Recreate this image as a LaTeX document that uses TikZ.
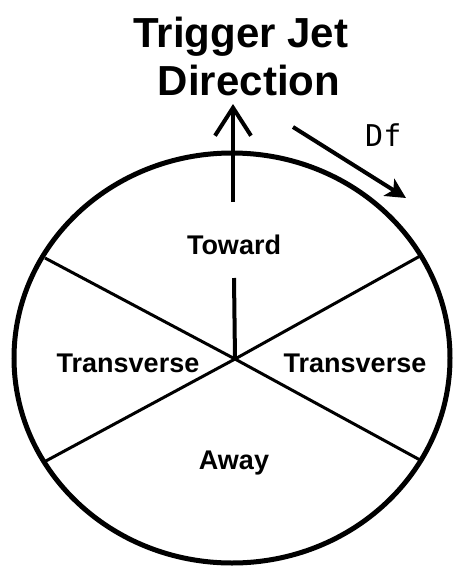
\documentclass[tikz,border=0pt]{standalone}
\usepackage{fontspec}
\setmainfont{Liberation Sans}
\newfontfamily\dfmono{DejaVu Sans Mono}
\usetikzlibrary{arrows.meta}
\begin{document}
\begin{tikzpicture}[x=1pt,y=-1pt,
  titletext/.style={font=\fontsize{42}{48}\selectfont\bfseries, anchor=base, inner sep=0pt},
  regiontext/.style={font=\fontsize{27}{30}\selectfont\bfseries, anchor=base, inner sep=0pt},
  monotext/.style={font=\fontsize{30}{34}\selectfont\dfmono, anchor=base west, inner sep=0pt},
  rim/.style={line width=5pt},
  spoke/.style={line width=3pt},
  arrowline/.style={line width=4pt}]
\useasboundingbox (0,0) rectangle (456,570);
% rim
\coordinate (o) at (232,358);
\draw[rim] (o) ellipse [x radius=218pt, y radius=205pt];
% spokes
\coordinate (c) at (235,359);
\coordinate (ur) at (421,255.5);
\coordinate (ul) at (45,258);
\coordinate (ll) at (44,462);
\coordinate (lr) at (421,460.5);
\coordinate (vt) at (234,278);
\draw[spoke] (c) -- (ur);
\draw[spoke] (c) -- (ul);
\draw[spoke] (c) -- (ll);
\draw[spoke] (c) -- (lr);
\draw[line width=4pt] (c) -- (vt);
% trigger arrow
\coordinate (ab) at (233,202);
\coordinate (at) at (233,104);
\draw[arrowline, -{Straight Barb[length=28pt,width=36pt,line width=4pt]}] (ab) -- (at);
% Df arrow
\coordinate (db) at (293,127);
\coordinate (dt) at (406,198);
\draw[arrowline, -{Stealth[length=20pt,width=20pt,inset=5pt]}] (db) -- (dt);
% texts
\node[titletext] (t1) at (241,47) {Trigger Jet};
\node[titletext] (t2) at (249,95) {Direction};
\node[monotext] (df) at (365,146) {Df};
\node[regiontext] (toward) at (234,254) {Toward};
\node[regiontext] (trl) at (128,372) {Transverse};
\node[regiontext] (trr) at (355,372) {Transverse};
\node[regiontext] (away) at (234,469) {Away};
\end{tikzpicture}
\end{document}
